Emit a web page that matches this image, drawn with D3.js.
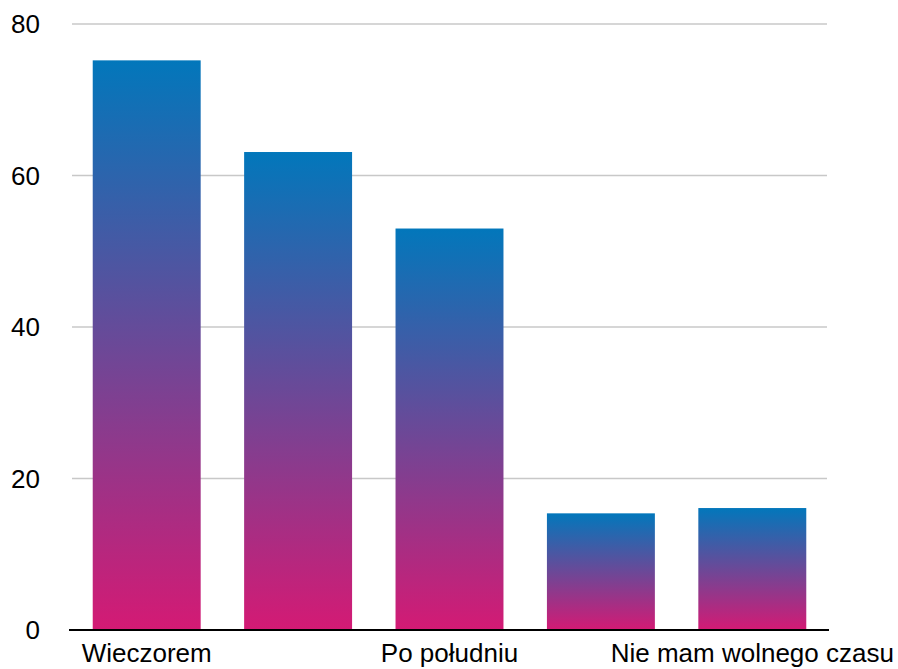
<!DOCTYPE html>
<html>
<head>
<meta charset="utf-8">
<script src="https://cdn.jsdelivr.net/npm/d3@7"></script>
<style>
  body { margin: 0; background: #fff; }
  text { font-family: "Liberation Sans", Arial, sans-serif; fill: #000; }
</style>
</head>
<body>
<div id="chart"></div>
<script>
// data
var categories = ["Wieczorem", "W weekendy", "Po południu", "Rano", "Nie mam wolnego czasu"];
var values = [75.2, 63.1, 53.0, 15.4, 16.1];
var yTicks = [0, 20, 40, 60, 80];
var shownLabels = ["Wieczorem", "Po południu", "Nie mam wolnego czasu"];

function init() {
    var w = 898;
    var h = 669;

    var svg = d3.select("#chart")
        .append("svg")
        .attr("width", w)
        .attr("height", h);

    var x = d3.scaleBand()
        .domain(categories)
        .range([71, 828])
        .paddingInner(0.287)
        .paddingOuter(0.1435);

    var y = d3.scaleLinear()
        .domain([0, 80])
        .range([630, 24]);

    // gradient per bar (top blue -> bottom pink)
    var defs = svg.append("defs");
    var grad = defs.append("linearGradient")
        .attr("id", "barGrad")
        .attr("x1", 0).attr("y1", 0)
        .attr("x2", 0).attr("y2", 1);
    grad.append("stop").attr("offset", "0%").attr("stop-color", "#0277bb");
    grad.append("stop").attr("offset", "100%").attr("stop-color", "#d41a74");

    // gridlines
    svg.append("g")
        .selectAll("line")
        .data(yTicks.filter(function (d) { return d > 0; }))
        .enter()
        .append("line")
        .attr("x1", 72)
        .attr("x2", 827)
        .attr("y1", function (d) { return y(d); })
        .attr("y2", function (d) { return y(d); })
        .attr("stroke", "#c8c8c8")
        .attr("stroke-width", 1.5);

    // y labels
    svg.append("g")
        .selectAll("text")
        .data(yTicks)
        .enter()
        .append("text")
        .attr("x", 40)
        .attr("y", function (d) { return y(d); })
        .attr("dy", "0.36em")
        .attr("text-anchor", "end")
        .attr("font-size", 26)
        .text(function (d) { return d; });

    // bars
    svg.append("g")
        .selectAll("rect")
        .data(values)
        .enter()
        .append("rect")
        .attr("x", function (d, i) { return x(categories[i]); })
        .attr("y", function (d) { return y(d); })
        .attr("width", x.bandwidth())
        .attr("height", function (d) { return y(0) - y(d); })
        .attr("fill", "url(#barGrad)");

    // baseline
    svg.append("line")
        .attr("x1", 69)
        .attr("x2", 829)
        .attr("y1", y(0))
        .attr("y2", y(0))
        .attr("stroke", "#000")
        .attr("stroke-width", 2);

    // category labels (only every other one fits)
    svg.append("g")
        .selectAll("text")
        .data(shownLabels)
        .enter()
        .append("text")
        .attr("x", function (d) { return x(d) + x.bandwidth() / 2; })
        .attr("y", 662)
        .attr("text-anchor", "middle")
        .attr("font-size", 26)
        .text(function (d) { return d; });
}

window.onload = init;
</script>
</body>
</html>
